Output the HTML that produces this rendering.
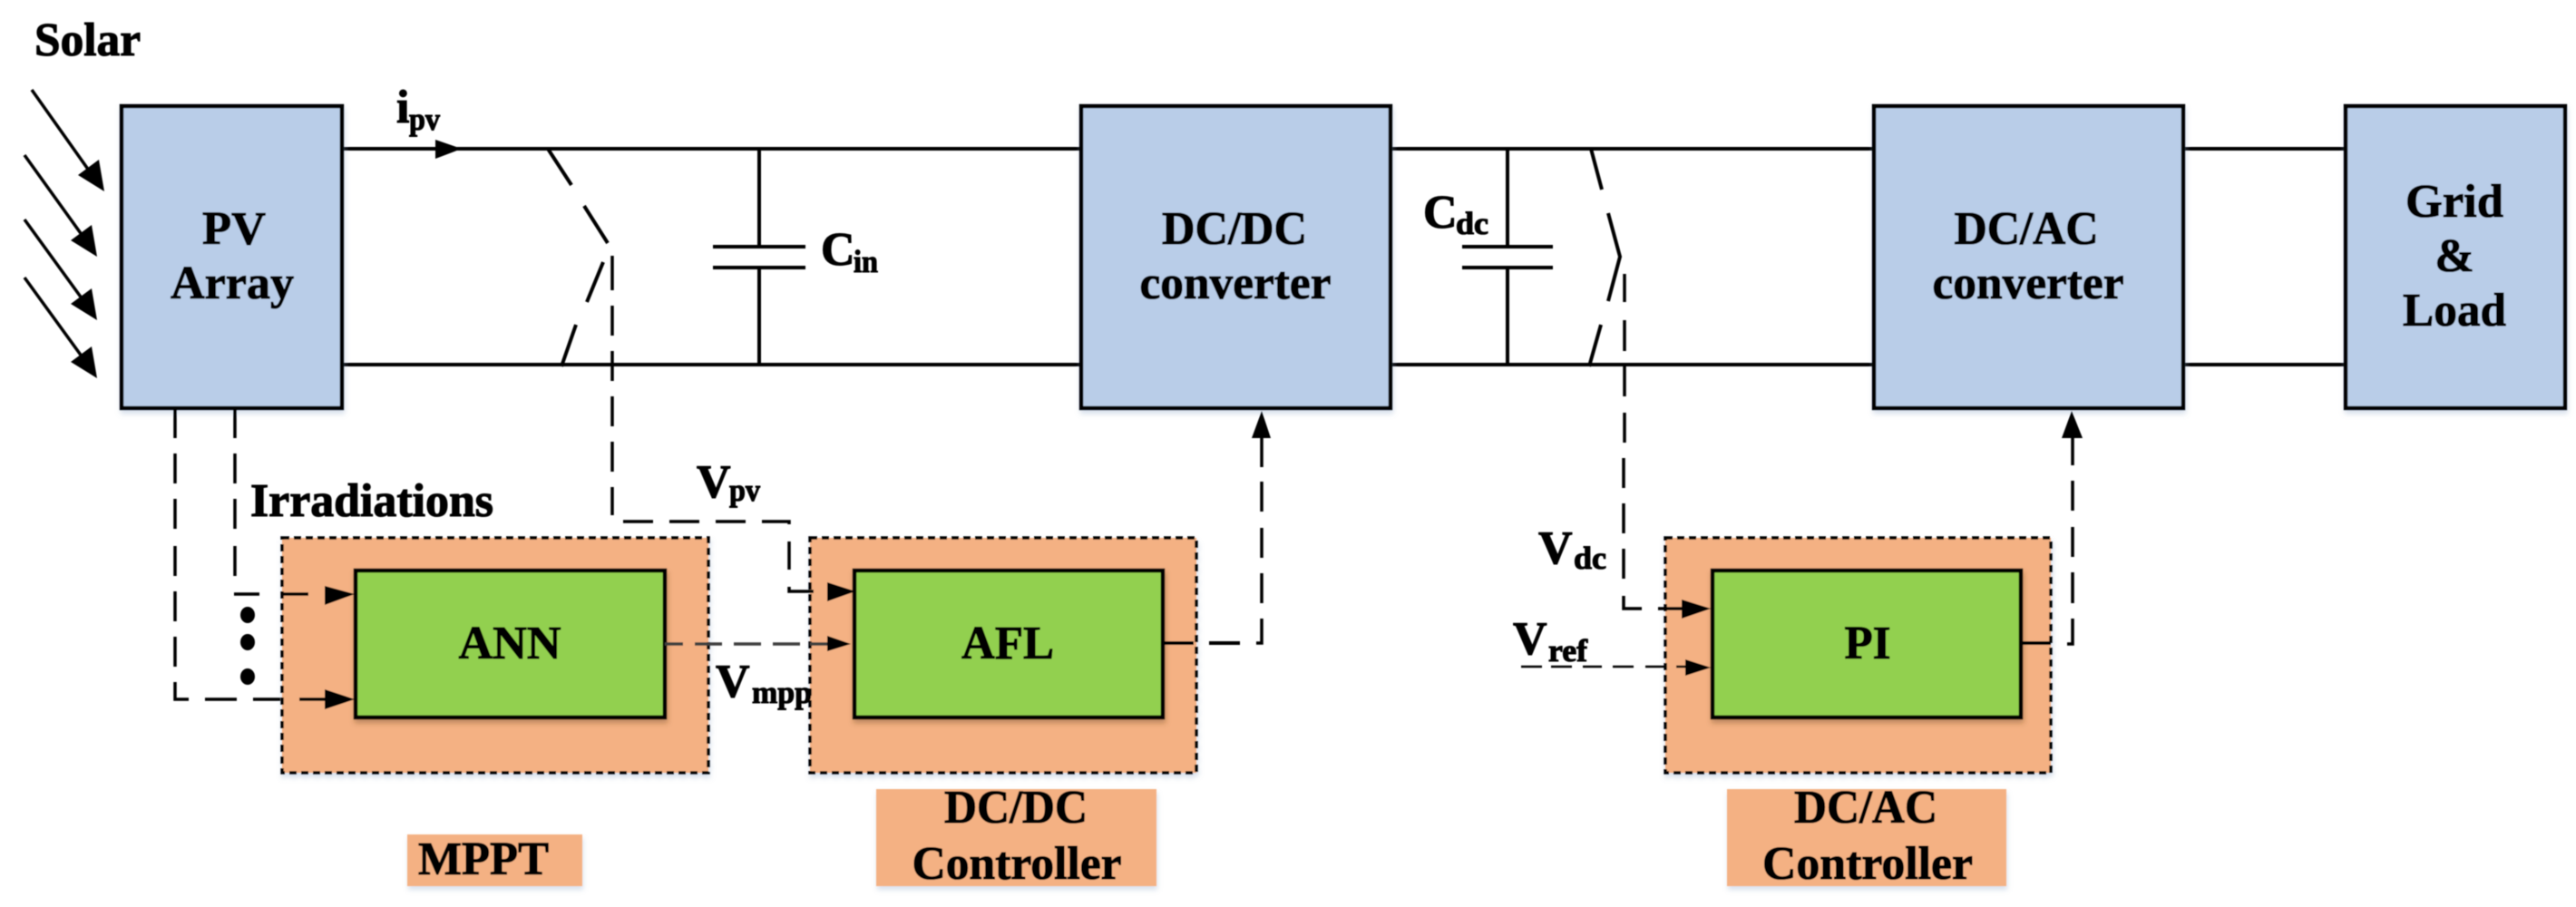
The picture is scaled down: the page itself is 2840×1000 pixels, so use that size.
<!DOCTYPE html>
<html><head><meta charset="utf-8"><style>
html,body{margin:0;padding:0;background:#fff;width:2840px;height:1000px;overflow:hidden}
svg{display:block}
text{font-family:"Liberation Serif",serif;font-weight:bold;font-size:52px;fill:#000;stroke:#000;stroke-width:1.1}
.s{font-size:35px}
.m{text-anchor:middle}
.box{fill:#b9cde8;stroke:#000;stroke-width:4.5}
.grn{fill:#92d050;stroke:#000;stroke-width:4.5}
.out{fill:#f4b183;stroke:#000;stroke-width:3.5;stroke-dasharray:8 5}
.lab{fill:#f4b183}
.l{fill:none;stroke:#000;stroke-width:4}
.d{fill:none;stroke:#000;stroke-width:3.5}
</style></head><body>
<svg xmlns="http://www.w3.org/2000/svg" width="2840" height="1000" viewBox="0 0 2840 1000">
<defs>
<filter id="sh" x="-10%" y="-10%" width="120%" height="120%"><feDropShadow dx="1" dy="4" stdDeviation="3" flood-color="#8fa6c8" flood-opacity=".35"/></filter>
<filter id="sd" x="-10%" y="-10%" width="120%" height="120%"><feDropShadow dx="1" dy="4" stdDeviation="3" flood-color="#5a3a20" flood-opacity=".35"/></filter>
<filter id="bl"><feGaussianBlur stdDeviation=".6"/></filter>
</defs>
<g filter="url(#bl)">
<!-- rails -->
<path class="l" d="M377 164H1192M1533 164H2066M2407 164H2586M377 402H1192M1533 402H2066M2407 402H2586"/>
<!-- capacitors -->
<path class="l" d="M837 164V272M837 295V402M786 272H888M786 295H888M1662 164V272M1662 295V402M1612 272H1712M1612 295H1712"/>
<!-- switches -->
<path class="l" d="M604 164L630 204M644 227L670 268M665 289L647 333M635 358L619 404M1754 164L1766 209M1773 235L1786 283L1773 332M1765 358L1752 404"/>
<!-- main boxes -->
<g filter="url(#sh)">
<rect class="box" x="134" y="117" width="243" height="333"/>
<rect class="box" x="1192" y="117" width="341" height="333"/>
<rect class="box" x="2066" y="117" width="341" height="333"/>
<rect class="box" x="2586" y="117" width="242" height="333"/>
<rect class="lab" x="449" y="920" width="193" height="57"/>
<rect class="lab" x="966" y="870" width="309" height="107"/>
<rect class="lab" x="1904" y="870" width="308" height="107"/>
<rect class="out" x="311" y="593" width="470" height="259"/>
<rect class="out" x="893" y="593" width="426" height="259"/>
<rect class="out" x="1836" y="593" width="425" height="259"/>
</g>
<g filter="url(#sd)">
<rect class="grn" x="392" y="629" width="341" height="162"/>
<rect class="grn" x="942" y="629" width="340" height="162"/>
<rect class="grn" x="1888" y="629" width="340" height="162"/>
</g>
<!-- solar arrows -->
<path class="l" style="stroke-width:3.5" d="M35 99L103 195M27 171L96 267M27 242L96 337M27 306L96 401"/>
<path d="M115 211L86 193L109 176ZM107 283L78 265L101 248ZM107 353L78 335L101 318ZM107 417L78 399L101 382Z"/>
<!-- ipv arrow -->
<path d="M509 164L480 154V175Z"/>
<!-- dashed links -->
<path class="d" d="M675 282V320M675 337V370M675 387V420M675 437V470M675 487V520M675 537V568M687 575H720M738 575H771M789 575H822M840 575H870V578M870 597V628M870 647V652H897"/>
<path class="d" d="M193 451V483M193 500V533M193 550V583M193 602V635M193 652V685M193 702V735M193 752V771H208M226 771H261M279 771H309M330 771H362"/>
<path class="d" d="M259 451V483M259 500V533M259 550V583M259 602V635M258 655H286M312 655H340"/>
<path class="d" d="M733 710H753M766 710H796M809 710H839M852 710H882M893 710H915" style="stroke:#404040"/>
<path class="l" d="M1282 709H1316M1333 709H1367"/>
<path class="d" d="M1385 709H1391V682M1391 665V632M1391 615V582M1391 564V531M1391 515V483"/>
<path class="d" d="M1791 302V333M1791 353V387M1791 403V437M1791 455V488M1790 505V538M1790 555V588M1790 605V638M1790 657V671H1810M1828 671H1858"/>
<path class="d" d="M1677 735H1700M1710 735H1733M1745 735H1766M1778 735H1801M1814 735H1836M1848 735H1862" style="stroke-width:2.5"/>
<path class="l" d="M2228 709H2261"/>
<path class="d" d="M2279 710H2285V682M2285 665V631M2285 614V581M2285 563V530M2285 513V483"/>
<!-- arrowheads -->
<path d="M391 655L358 646V667ZM391 771L358 760V782ZM943 652L912 642V663ZM938 710L912 701V718ZM1886 671L1854 661V682ZM1886 736L1858 727V745Z"/>
<path d="M1391 453L1380 483H1401ZM2284 453L2273 483H2296Z"/>
<!-- dots -->
<ellipse cx="273" cy="678" rx="8" ry="9"/><ellipse cx="273" cy="708" rx="8" ry="9"/><ellipse cx="273" cy="746" rx="8" ry="9"/>
<!-- labels -->
<text x="38" y="61" textLength="117" lengthAdjust="spacingAndGlyphs">Solar</text>
<text x="437" y="135">i</text><text class="s" x="451" y="143" textLength="34" lengthAdjust="spacingAndGlyphs">pv</text>
<text class="m" x="258" y="269" textLength="70" lengthAdjust="spacingAndGlyphs">PV</text><text class="m" x="256" y="329" textLength="136" lengthAdjust="spacingAndGlyphs">Array</text>
<text x="905" y="292">C</text><text class="s" x="941" y="300" textLength="27" lengthAdjust="spacingAndGlyphs">in</text>
<text class="m" x="1361" y="269" textLength="160" lengthAdjust="spacingAndGlyphs">DC/DC</text><text class="m" x="1362" y="329" textLength="211" lengthAdjust="spacingAndGlyphs">converter</text>
<text x="1569" y="251">C</text><text class="s" x="1605" y="258" textLength="36" lengthAdjust="spacingAndGlyphs">dc</text>
<text class="m" x="2234" y="269" textLength="159" lengthAdjust="spacingAndGlyphs">DC/AC</text><text class="m" x="2236" y="329" textLength="211" lengthAdjust="spacingAndGlyphs">converter</text>
<text class="m" x="2706" y="239" textLength="108" lengthAdjust="spacingAndGlyphs">Grid</text><text class="m" x="2706" y="299">&amp;</text><text class="m" x="2706" y="359" textLength="114" lengthAdjust="spacingAndGlyphs">Load</text>
<text x="276" y="569" textLength="268" lengthAdjust="spacingAndGlyphs">Irradiations</text>
<text x="768" y="548">V</text><text class="s" x="804" y="552" textLength="34" lengthAdjust="spacingAndGlyphs">pv</text>
<text x="789" y="768">V</text><text class="s" x="829" y="775" textLength="66" lengthAdjust="spacingAndGlyphs">mpp</text>
<text x="1696" y="621">V</text><text class="s" x="1735" y="627" textLength="36" lengthAdjust="spacingAndGlyphs">dc</text>
<text x="1668" y="721">V</text><text class="s" x="1707" y="729" textLength="43" lengthAdjust="spacingAndGlyphs">ref</text>
<text class="m" x="562" y="726" textLength="113" lengthAdjust="spacingAndGlyphs">ANN</text>
<text class="m" x="1111" y="726" textLength="102" lengthAdjust="spacingAndGlyphs">AFL</text>
<text class="m" x="2059" y="726" textLength="51" lengthAdjust="spacingAndGlyphs">PI</text>
<text x="461" y="964" textLength="144" lengthAdjust="spacingAndGlyphs">MPPT</text>
<text class="m" x="1120" y="907" textLength="158" lengthAdjust="spacingAndGlyphs">DC/DC</text><text class="m" x="1121" y="969" textLength="231" lengthAdjust="spacingAndGlyphs">Controller</text>
<text class="m" x="2057" y="907" textLength="158" lengthAdjust="spacingAndGlyphs">DC/AC</text><text class="m" x="2059" y="969" textLength="232" lengthAdjust="spacingAndGlyphs">Controller</text>
</g>
</svg>
</body></html>
